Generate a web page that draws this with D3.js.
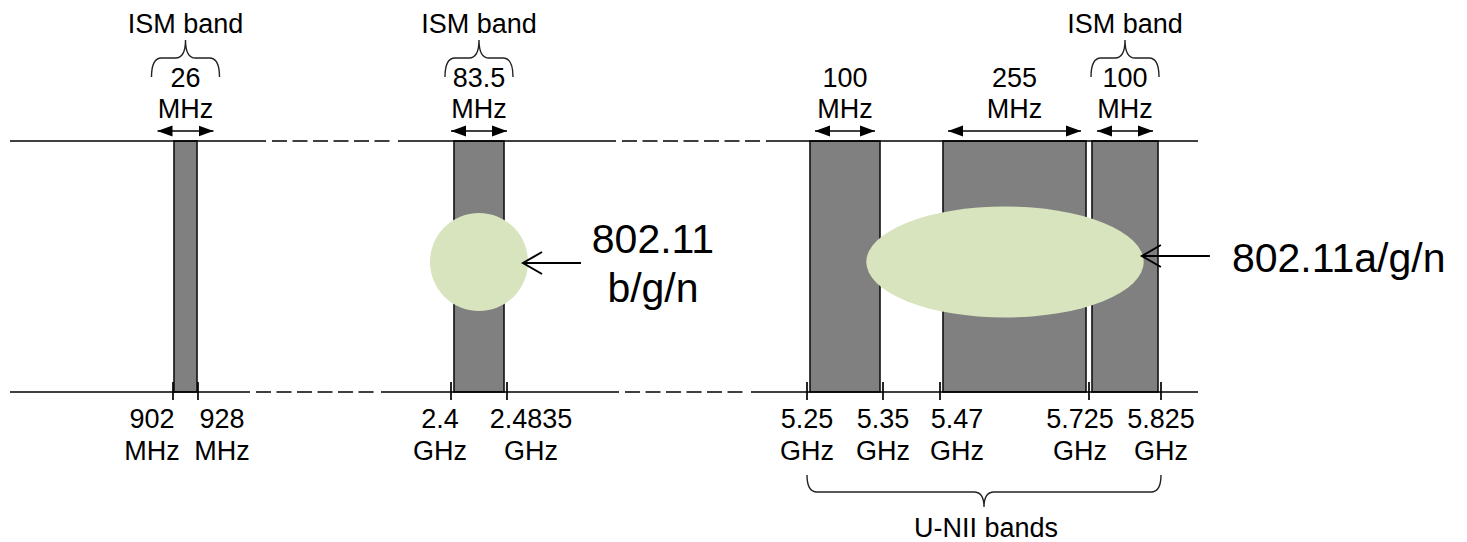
<!DOCTYPE html>
<html>
<head>
<meta charset="utf-8">
<script src="https://cdn.jsdelivr.net/npm/d3@7/dist/d3.min.js"></script>
<style>
  body { margin: 0; background: #fff; }
  svg text { font-family: "Liberation Sans", Arial, sans-serif; fill: #000; }
</style>
</head>
<body>
<div id="chart"></div>
<script>
// Frequencies in MHz
const tickFreqs = [902, 928, 2400, 2483.5, 5250, 5350, 5470, 5725, 5825];
const tickNumbers = ["902", "928", "2.4", "2.4835", "5.25", "5.35", "5.47", "5.725", "5.825"];
const tickUnits = ["MHz", "MHz", "GHz", "GHz", "GHz", "GHz", "GHz", "GHz", "GHz"];

const bandLow = [902, 2400, 5250, 5470, 5725];
const bandHigh = [928, 2483.5, 5350, 5725, 5825];
const bandWidthNums = ["26", "83.5", "100", "255", "100"];
const bandIsISM = [true, true, false, false, true];

const wifiLines = [["802.11", "b/g/n"], ["802.11a/g/n"]];
const wifiLow = [2400, 5328];
const wifiHigh = [2483.5, 5801];

// Layout (pixels)
const W = 1467, H = 542;
const axisStops = [173, 198, 451, 507, 807, 883, 940, 1089, 1161]; // broken, not to scale
const yTop = 141, yBot = 392;
const topSegs = [[10, 266, false], [266, 398, true], [398, 616, false], [616, 766, true], [766, 1198, false]];
const botSegs = [[10, 250, false], [250, 381, true], [381, 619, false], [619, 751, true], [751, 1198, false]];
const tickLabelDx = [-21, 24, -11, 24, 0, 0, 17, -9, 0];
const bubbleRy = [49, 55.5];
const bubbleCy = 262;
const arrowY = [263, 256];
const arrowLen = [58, 68];
const arrowInset = [5, 1];

const x = d3.scaleLinear().domain(tickFreqs).range(axisStops);

const svg = d3.select('#chart')
    .append('svg')
    .attr('width', W)
    .attr('height', H)
    .style('background', '#fff');

const defs = svg.append('defs');
['start', 'end'].forEach(side => {
    defs.append('marker')
        .attr('id', 'head-' + side)
        .attr('viewBox', '0 -6 15 12')
        .attr('refX', side === 'end' ? 15 : 0)
        .attr('refY', 0)
        .attr('markerUnits', 'userSpaceOnUse')
        .attr('markerWidth', 15)
        .attr('markerHeight', 12)
        .attr('orient', 'auto')
        .append('path')
        .attr('d', side === 'end' ? 'M0,-5.5L15,0L0,5.5Z' : 'M15,-5.5L0,0L15,5.5Z')
        .attr('fill', '#000');
});

// Curly brace between x0 and x1, tip at yTip
function brace(x0, x1, yEnd, yMid, yTip) {
    const xc = (x0 + x1) / 2, q = 10;
    return `M${x0},${yEnd} Q${x0},${yMid} ${x0 + q},${yMid} L${xc - q},${yMid} ` +
        `Q${xc},${yMid} ${xc},${yTip} Q${xc},${yMid} ${xc + q},${yMid} ` +
        `L${x1 - q},${yMid} Q${x1},${yMid} ${x1},${yEnd}`;
}

const bands = bandLow.map((lo, i) => ({
    lo, hi: bandHigh[i], label: bandWidthNums[i], ism: bandIsISM[i]
}));

// Bands
svg.append('g')
    .selectAll('rect')
    .data(bands)
    .enter().append('rect')
    .attr('x', d => {
        const w = x(d.hi) - x(d.lo);
        return x(d.lo) + (w > 40 ? 3 : 1);
    })
    .attr('width', d => {
        const w = x(d.hi) - x(d.lo);
        return w - 2 * (w > 40 ? 3 : 1);
    })
    .attr('y', yTop)
    .attr('height', yBot - yTop)
    .attr('fill', '#808080')
    .attr('stroke', '#111')
    .attr('stroke-width', 1.6);

// Horizontal lines
function drawLine(segs, y) {
    const g = svg.append('g');
    segs.forEach(([a, b, dashed]) => {
        g.append('line')
            .attr('x1', dashed ? a + 6 : a)
            .attr('x2', dashed ? b - 5 : b)
            .attr('y1', y).attr('y2', y)
            .attr('stroke', '#000')
            .attr('stroke-width', 1.7)
            .attr('stroke-dasharray', dashed ? '15,5.5' : null);
    });
}
drawLine(topSegs, yTop);
drawLine(botSegs, yBot);

// Ticks on lower line
svg.append('g')
    .selectAll('line')
    .data(tickFreqs)
    .enter().append('line')
    .attr('x1', d => x(d)).attr('x2', d => x(d))
    .attr('y1', yBot - 10).attr('y2', yBot + 8)
    .attr('stroke', '#000')
    .attr('stroke-width', 1.7);

// Tick labels
const tickLab = svg.append('g')
    .attr('font-size', 27)
    .attr('text-anchor', 'middle');
tickFreqs.forEach((f, i) => {
    const tx = x(f) + tickLabelDx[i];
    tickLab.append('text').attr('x', tx).attr('y', 428).text(tickNumbers[i]);
    tickLab.append('text').attr('x', tx).attr('y', 460).text(tickUnits[i]);
});

// Band width labels + double arrows
const bandLab = svg.append('g')
    .attr('font-size', 27)
    .attr('text-anchor', 'middle');
bands.forEach(d => {
    const c = (x(d.lo) + x(d.hi)) / 2;
    const half = Math.max(28, (x(d.hi) - x(d.lo)) / 2 - 8);
    bandLab.append('text').attr('x', c).attr('y', 87).text(d.label);
    bandLab.append('text').attr('x', c).attr('y', 118).text('MHz');
    bandLab.append('line')
        .attr('x1', c - half).attr('x2', c + half)
        .attr('y1', 131).attr('y2', 131)
        .attr('stroke', '#000')
        .attr('stroke-width', 1.6)
        .attr('marker-start', 'url(#head-start)')
        .attr('marker-end', 'url(#head-end)');
    if (d.ism) {
        bandLab.append('text').attr('x', c).attr('y', 33).text('ISM band');
        bandLab.append('path')
            .attr('d', brace(c - 34, c + 34, 77, 58, 40))
            .attr('fill', 'none')
            .attr('stroke', '#222')
            .attr('stroke-width', 1.4);
    }
});

// U-NII brace
svg.append('path')
    .attr('d', brace(x(5250), x(5825), 475, 492, 507))
    .attr('fill', 'none')
    .attr('stroke', '#222')
    .attr('stroke-width', 1.4);
svg.append('text')
    .attr('x', (x(5250) + x(5825)) / 2 + 2)
    .attr('y', 537)
    .attr('font-size', 27)
    .attr('text-anchor', 'middle')
    .text('U-NII bands');

// 802.11 bubbles with pointing arrows
const wifi = svg.append('g');
wifiLow.forEach((lo, i) => {
    const x0 = x(lo), x1 = x(wifiHigh[i]);
    const cx = (x0 + x1) / 2;
    const ry = bubbleRy[i];
    const rx = Math.max(ry, (x1 - x0) / 2);
    wifi.append('ellipse')
        .attr('cx', cx).attr('cy', bubbleCy)
        .attr('rx', rx).attr('ry', ry)
        .attr('fill', '#d7e4bd');

    const ay = arrowY[i];
    const dy = ay - bubbleCy;
    const tip = cx + rx * Math.sqrt(1 - (dy / ry) ** 2) - arrowInset[i];
    const tail = tip + arrowLen[i];
    wifi.append('line')
        .attr('x1', tip).attr('x2', tail)
        .attr('y1', ay).attr('y2', ay)
        .attr('stroke', '#000').attr('stroke-width', 2);
    wifi.append('path')
        .attr('d', `M${tip + 19},${ay - 11} L${tip},${ay} L${tip + 19},${ay + 11}`)
        .attr('fill', 'none')
        .attr('stroke', '#000').attr('stroke-width', 2);

    const lines = wifiLines[i];
    if (lines.length === 2) {
        const tc = tail + 72;
        wifi.append('text').attr('x', tc).attr('y', 253)
            .attr('font-size', 41).attr('text-anchor', 'middle').text(lines[0]);
        wifi.append('text').attr('x', tc).attr('y', 302)
            .attr('font-size', 41).attr('text-anchor', 'middle').text(lines[1]);
    } else {
        wifi.append('text').attr('x', tail + 22).attr('y', 272)
            .attr('font-size', 41).text(lines[0]);
    }
});
</script>
</body>
</html>
